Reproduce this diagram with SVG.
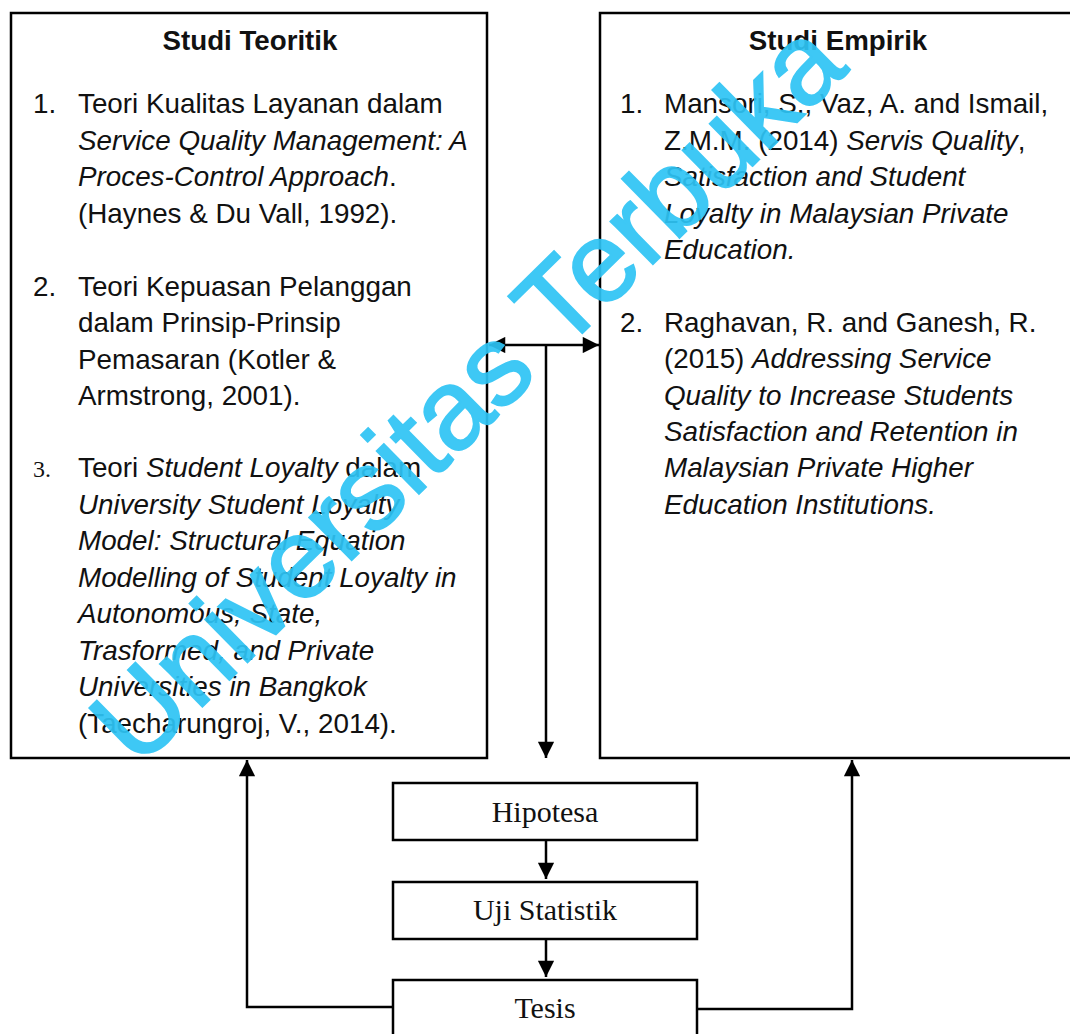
<svg xmlns="http://www.w3.org/2000/svg" width="1070" height="1034" viewBox="0 0 1070 1034">
<defs>
<style>
.box{fill:none;stroke:#000;stroke-width:2.5}
.ln{fill:none;stroke:#000;stroke-width:2.5}
.t{font-family:"Liberation Sans",Arial,sans-serif;font-size:27.8px;fill:#111}
.h{font-family:"Liberation Sans",Arial,sans-serif;font-size:27.7px;font-weight:bold;fill:#111}
.i{font-style:italic}
.s{font-family:"Liberation Serif","Times New Roman",serif;font-size:30px;fill:#111}
.n{font-family:"Liberation Serif","Times New Roman",serif;font-size:24px;fill:#111}
.wm{font-family:"Liberation Sans",Arial,sans-serif;font-size:114px;fill:#2ec4f5;stroke:#2ec4f5;stroke-width:1.8;opacity:0.92}
</style>
<marker id="ah" viewBox="0 0 10 10" refX="10" refY="5" markerWidth="7" markerHeight="6.5" orient="auto-start-reverse" markerUnits="strokeWidth">
<path d="M0,0 L10,5 L0,10 z" fill="#000"/>
</marker>
</defs>
<rect width="1070" height="1034" fill="#fff"/>

<g id="studi-teoritik">
<rect class="box" x="11" y="13" width="476" height="745"/>
<text class="h" x="250" y="50" text-anchor="middle">Studi Teoritik</text>
<text class="t" x="33" y="113">1.</text>
<text class="t" x="78" y="113">Teori Kualitas Layanan dalam</text>
<text class="t i" x="78" y="150">Service Quality Management: A</text>
<text class="t" x="78" y="186"><tspan class="i">Proces-Control Approach</tspan>.</text>
<text class="t" x="78" y="223">(Haynes &amp; Du Vall, 1992).</text>
<text class="t" x="33" y="296">2.</text>
<text class="t" x="78" y="296">Teori Kepuasan Pelanggan</text>
<text class="t" x="78" y="332">dalam Prinsip-Prinsip</text>
<text class="t" x="78" y="369">Pemasaran (Kotler &amp;</text>
<text class="t" x="78" y="405">Armstrong, 2001).</text>
<text class="n" x="33" y="477">3.</text>
<text class="t" x="78" y="477">Teori <tspan class="i">Student Loyalty</tspan> dalam</text>
<text class="t i" x="78" y="514">University Student Loyalty</text>
<text class="t i" x="78" y="550">Model: Structural Equation</text>
<text class="t i" x="78" y="587">Modelling of Student Loyalty in</text>
<text class="t i" x="78" y="623">Autonomous, State,</text>
<text class="t i" x="78" y="660">Trasformed, and Private</text>
<text class="t i" x="78" y="696">Universities in Bangkok</text>
<text class="t" x="78" y="733">(Taecharungroj, V., 2014).</text>
</g>

<g id="studi-empirik">
<rect class="box" x="600" y="13" width="480" height="745"/>
<text class="h" x="838" y="50" text-anchor="middle">Studi Empirik</text>
<text class="t" x="620" y="113">1.</text>
<text class="t" x="664" y="113">Mansori, S., Vaz, A. and Ismail,</text>
<text class="t" x="664" y="150">Z.M.M. (2014) <tspan class="i">Servis Quality</tspan>,</text>
<text class="t i" x="664" y="186">Satisfaction and Student</text>
<text class="t i" x="664" y="223">Loyalty in Malaysian Private</text>
<text class="t i" x="664" y="259">Education.</text>
<text class="t" x="620" y="332">2.</text>
<text class="t" x="664" y="332">Raghavan, R. and Ganesh, R.</text>
<text class="t" x="664" y="368">(2015) <tspan class="i">Addressing Service</tspan></text>
<text class="t i" x="664" y="405">Quality to Increase Students</text>
<text class="t i" x="664" y="441">Satisfaction and Retention in</text>
<text class="t i" x="664" y="477">Malaysian Private Higher</text>
<text class="t i" x="664" y="514">Education Institutions.</text>
</g>

<g id="hipotesa">
<rect class="box" x="393" y="783" width="304" height="57"/>
<text class="s" x="545" y="822" text-anchor="middle">Hipotesa</text>
</g>
<g id="uji-statistik">
<rect class="box" x="393" y="882" width="304" height="57"/>
<text class="s" x="545" y="920" text-anchor="middle">Uji Statistik</text>
</g>
<g id="tesis">
<rect class="box" x="393" y="980" width="304" height="70"/>
<text class="s" x="545" y="1018" text-anchor="middle">Tesis</text>
</g>

<g id="connectors">
<line class="ln" x1="489" y1="345" x2="599" y2="345" marker-start="url(#ah)" marker-end="url(#ah)"/>
<line class="ln" x1="546" y1="345" x2="546" y2="758" marker-end="url(#ah)"/>
<line class="ln" x1="546" y1="840" x2="546" y2="879" marker-end="url(#ah)"/>
<line class="ln" x1="546" y1="939" x2="546" y2="977" marker-end="url(#ah)"/>
<polyline class="ln" points="393,1007 247,1007 247,760" marker-end="url(#ah)"/>
<polyline class="ln" points="697,1009 852,1009 852,760" marker-end="url(#ah)"/>
</g>

<text class="wm" x="138" y="770" transform="rotate(-44.5 138 770)">Universitas Terbuka</text>
</svg>
